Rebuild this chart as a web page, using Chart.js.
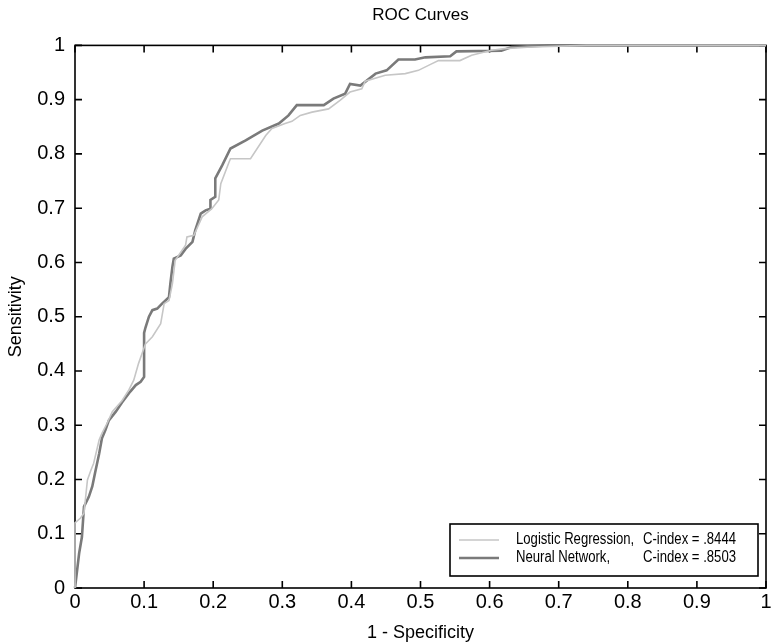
<!DOCTYPE html>
<html>
<head>
<meta charset="utf-8">
<script src="https://cdn.jsdelivr.net/npm/chart.js@4.4.0/dist/chart.umd.min.js"></script>
<style>
html, body { margin: 0; padding: 0; background: #fff; }
#wrap { width: 776px; height: 644px; }
</style>
</head>
<body>
<div id="wrap"><canvas id="chart"></canvas></div>
<script>
// ROC points (1 - specificity, sensitivity)
var lrFpr = [0, 0, 0.008, 0.013, 0.018, 0.023, 0.027, 0.035, 0.039, 0.047, 0.054, 0.068, 0.078, 0.085, 0.092, 0.102, 0.112, 0.124, 0.129, 0.136, 0.141, 0.145, 0.16, 0.162, 0.172, 0.184, 0.198, 0.208, 0.211, 0.223, 0.225, 0.254, 0.276, 0.285, 0.304, 0.314, 0.326, 0.343, 0.367, 0.384, 0.398, 0.415, 0.42, 0.449, 0.478, 0.497, 0.516, 0.526, 0.557, 0.574, 0.603, 0.622, 0.66, 0.74, 1];
var lrTpr = [0, 0.12, 0.129, 0.138, 0.199, 0.217, 0.23, 0.273, 0.285, 0.305, 0.325, 0.345, 0.365, 0.383, 0.414, 0.45, 0.463, 0.487, 0.524, 0.53, 0.561, 0.604, 0.632, 0.647, 0.65, 0.684, 0.699, 0.715, 0.745, 0.785, 0.791, 0.791, 0.834, 0.847, 0.856, 0.86, 0.871, 0.877, 0.883, 0.899, 0.914, 0.92, 0.934, 0.945, 0.948, 0.954, 0.966, 0.972, 0.972, 0.982, 0.991, 0.994, 0.997, 1, 1];

var nnFpr = [0, 0.006, 0.01, 0.013, 0.02, 0.025, 0.029, 0.035, 0.039, 0.044, 0.049, 0.059, 0.068, 0.08, 0.088, 0.095, 0.1, 0.1, 0.102, 0.107, 0.112, 0.119, 0.126, 0.136, 0.138, 0.141, 0.143, 0.153, 0.16, 0.17, 0.174, 0.182, 0.189, 0.196, 0.196, 0.203, 0.203, 0.213, 0.225, 0.247, 0.271, 0.295, 0.309, 0.321, 0.36, 0.374, 0.391, 0.398, 0.413, 0.435, 0.451, 0.468, 0.492, 0.507, 0.543, 0.552, 0.617, 0.632, 0.685, 1];
var nnTpr = [0, 0.064, 0.094, 0.15, 0.168, 0.187, 0.212, 0.248, 0.276, 0.291, 0.309, 0.325, 0.342, 0.362, 0.374, 0.38, 0.389, 0.47, 0.48, 0.5, 0.512, 0.515, 0.524, 0.536, 0.561, 0.592, 0.607, 0.613, 0.625, 0.638, 0.659, 0.69, 0.696, 0.699, 0.715, 0.721, 0.755, 0.779, 0.81, 0.825, 0.843, 0.856, 0.871, 0.89, 0.89, 0.902, 0.911, 0.929, 0.926, 0.948, 0.954, 0.974, 0.974, 0.978, 0.98, 0.989, 0.99, 0.997, 1, 1];

var seriesNames = ['Logistic Regression,', 'Neural Network,'];
var cIndex = ['C-index = .8444', 'C-index = .8503'];
var tickVals = [0, 0.1, 0.2, 0.3, 0.4, 0.5, 0.6, 0.7, 0.8, 0.9, 1];
var tickLabels = ['0', '0.1', '0.2', '0.3', '0.4', '0.5', '0.6', '0.7', '0.8', '0.9', '1'];

var lightGray = '#c6c6c6';
var darkGray = '#7a7a7a';
var FONT = '"Liberation Sans", Arial, sans-serif';

function toPoints(xs, ys) {
    var pts = [];
    for (var i = 0; i < xs.length; i++) {
        pts.push({ x: xs[i], y: ys[i] });
    }
    return pts;
}

function labelFor(value) {
    var i = tickVals.findIndex(function(v) { return Math.abs(v - value) < 1e-6; });
    return i >= 0 ? tickLabels[i] : '';
}

// narrow text like the printed figure
function narrowText(ctx, text, x, y, align) {
    ctx.save();
    ctx.translate(x, y);
    ctx.scale(0.82, 1);
    ctx.textAlign = align;
    ctx.fillText(text, 0, 0);
    ctx.restore();
}

// box round the plot, inward ticks and the legend
var frame = {
    id: 'frame',
    beforeDatasetsDraw: function(chart) {
        var a = chart.chartArea, ctx = chart.ctx;
        var xs = chart.scales.x, ys = chart.scales.y;
        ctx.save();
        ctx.strokeStyle = '#000';
        ctx.lineWidth = 1.6;
        ctx.strokeRect(a.left, a.top, a.right - a.left, a.bottom - a.top);
        ctx.beginPath();
        tickVals.forEach(function(v) {
            var px = xs.getPixelForValue(v);
            ctx.moveTo(px, a.bottom); ctx.lineTo(px, a.bottom - 7);
            ctx.moveTo(px, a.top); ctx.lineTo(px, a.top + 7);
            var py = ys.getPixelForValue(v);
            ctx.moveTo(a.left, py); ctx.lineTo(a.left + 7, py);
            ctx.moveTo(a.right, py); ctx.lineTo(a.right - 7, py);
        });
        ctx.stroke();
        ctx.restore();
    },
    afterDatasetsDraw: function(chart) {
        var a = chart.chartArea, ctx = chart.ctx;
        var bw = 308, bh = 52;
        var bx = a.right - bw - 8, by = a.bottom - bh - 12;
        ctx.save();
        ctx.fillStyle = '#fff';
        ctx.fillRect(bx, by, bw, bh);
        ctx.strokeStyle = '#000';
        ctx.lineWidth = 1.6;
        ctx.strokeRect(bx, by, bw, bh);
        var colors = [lightGray, darkGray], widths = [1.6, 2.6];
        ctx.font = '16px ' + FONT;
        ctx.textBaseline = 'middle';
        ctx.fillStyle = '#000';
        for (var i = 0; i < 2; i++) {
            var ly = by + 16 + i * 18;
            ctx.strokeStyle = colors[i];
            ctx.lineWidth = widths[i];
            ctx.beginPath();
            ctx.moveTo(bx + 9, ly);
            ctx.lineTo(bx + 49, ly);
            ctx.stroke();
            narrowText(ctx, seriesNames[i], bx + 66, ly, 'left');
            narrowText(ctx, cIndex[i], bx + bw - 22, ly, 'right');
        }
        ctx.restore();
    }
};

var ctx = document.getElementById('chart').getContext('2d');
new Chart(ctx, {
    type: 'line',
    data: {
        datasets: [{
            label: 'Logistic Regression',
            data: toPoints(lrFpr, lrTpr),
            borderColor: lightGray,
            borderWidth: 1.6,
            pointRadius: 0,
            tension: 0,
            clip: 4
        }, {
            label: 'Neural Network',
            data: toPoints(nnFpr, nnTpr),
            borderColor: darkGray,
            borderWidth: 2.6,
            pointRadius: 0,
            tension: 0,
            clip: 4
        }]
    },
    plugins: [frame],
    options: {
        responsive: true,
        maintainAspectRatio: false,
        animation: false,
        layout: { padding: { left: 0, right: 10, top: 0, bottom: 0 } },
        plugins: {
            legend: { display: false },
            tooltip: { enabled: false },
            title: {
                display: true,
                fullSize: false,
                text: 'ROC Curves',
                color: '#000',
                font: { family: FONT, size: 17, weight: 'normal' },
                padding: { top: 5, bottom: 20 }
            }
        },
        scales: {
            x: {
                type: 'linear',
                min: 0,
                max: 1,
                afterBuildTicks: function(scale) {
                    scale.ticks = tickVals.map(function(v) { return { value: v }; });
                },
                afterFit: function(scale) { scale.height = 56; },
                grid: { display: false, drawTicks: false },
                border: { display: false },
                ticks: {
                    color: '#000',
                    padding: 2,
                    font: { family: FONT, size: 20 },
                    maxRotation: 0,
                    callback: function(v) { return labelFor(v); }
                },
                title: {
                    display: true,
                    text: '1 - Specificity',
                    color: '#000',
                    font: { family: FONT, size: 18 },
                    padding: { top: 0, bottom: 0 }
                }
            },
            y: {
                type: 'linear',
                min: 0,
                max: 1,
                afterBuildTicks: function(scale) {
                    scale.ticks = tickVals.map(function(v) { return { value: v }; });
                },
                afterFit: function(scale) { scale.width = 75; },
                grid: { display: false, drawTicks: false },
                border: { display: false },
                ticks: {
                    color: '#000',
                    padding: 10,
                    font: { family: FONT, size: 20 },
                    callback: function(v) { return labelFor(v); }
                },
                title: {
                    display: true,
                    text: 'Sensitivity',
                    color: '#000',
                    font: { family: FONT, size: 18 },
                    padding: { top: 5, bottom: 0 }
                }
            }
        }
    }
});
</script>
</body>
</html>
